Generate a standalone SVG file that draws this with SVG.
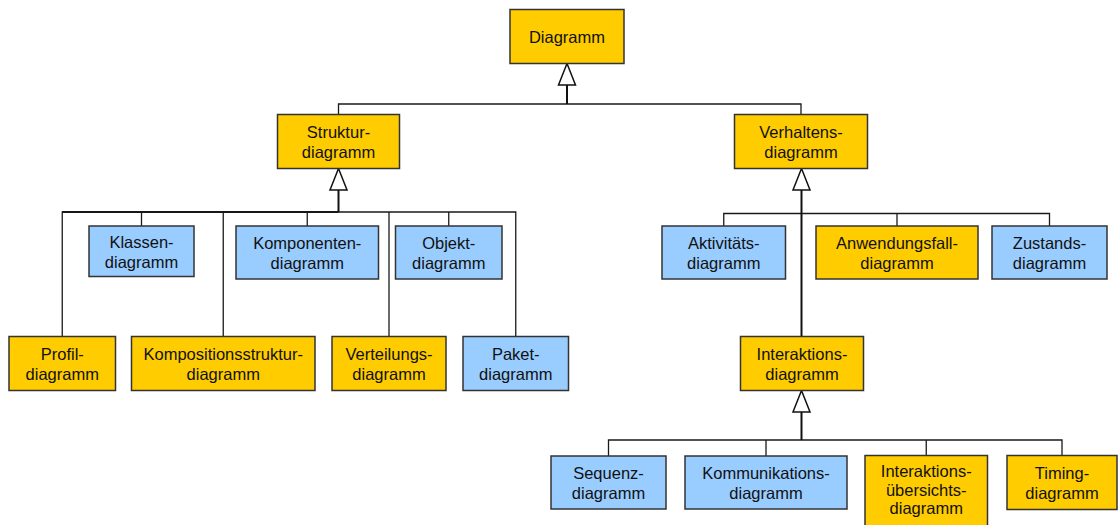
<svg xmlns="http://www.w3.org/2000/svg" width="1118" height="525" viewBox="0 0 1118 525">
  <style>
    .box rect { stroke: #333333; stroke-width: 1.5; }
    .yellow rect { fill: #FFCC00; }
    .blue rect { fill: #99CCFF; }
    .box text { font-family: "Liberation Sans", Arial, sans-serif; font-size: 16.5px; fill: #111111; text-anchor: middle; }
    .edge { fill: none; stroke: #1a1a1a; stroke-width: 1.3; }
    .trunk { fill: none; stroke: #111111; stroke-width: 2; }
    .head { fill: #ffffff; stroke: #111111; stroke-width: 1.5; stroke-linejoin: miter; }
  </style>
  <rect width="1118" height="525" fill="#ffffff"/>

  <!-- generalization connectors -->
  <g id="connectors">
    <!-- Diagramm -> Struktur / Verhalten -->
    <path class="edge" d="M338.5,114.5 V104 H801 V114.5"/>
    <path class="trunk" d="M567,85 V104"/>
    <path class="head" d="M567,63.5 L575.5,85 L558.5,85 Z"/>

    <!-- Strukturdiagramm children -->
    <path class="trunk" d="M62.25,212 H338.5"/>
    <path class="edge" d="M62.25,336.5 V212 H515.75 V336.5"/>
    <path class="edge" d="M141.5,212 V226"/>
    <path class="edge" d="M223.25,212 V336.5"/>
    <path class="edge" d="M307.25,212 V226"/>
    <path class="edge" d="M389,212 V336.5"/>
    <path class="edge" d="M448.75,212 V226"/>
    <path class="trunk" d="M338.5,190 V212"/>
    <path class="head" d="M338.5,168.5 L347,190 L330,190 Z"/>

    <!-- Verhaltensdiagramm children -->
    <path class="edge" d="M723.75,226 V213.5 H1049.5 V226"/>
    <path class="edge" d="M897,213.5 V226"/>
    <path class="trunk" d="M801.5,190 V336.5"/>
    <path class="head" d="M801.5,168.5 L810,190 L793,190 Z"/>

    <!-- Interaktionsdiagramm children -->
    <path class="edge" d="M608.5,456 V440 H1062 V455.5"/>
    <path class="edge" d="M766,440 V456"/>
    <path class="edge" d="M926.25,440 V455.5"/>
    <path class="trunk" d="M801.5,412 V440"/>
    <path class="head" d="M801.5,390.5 L810,412 L793,412 Z"/>
  </g>

  <!-- nodes -->
  <g id="diagramm" class="box yellow">
    <rect x="510" y="9.5" width="114" height="54"/>
    <text x="567" y="42.5">Diagramm</text>
  </g>
  <g id="strukturdiagramm" class="box yellow">
    <rect x="277.5" y="114.5" width="122" height="54"/>
    <text x="338.5" y="138">Struktur-</text>
    <text x="338.5" y="157.5">diagramm</text>
  </g>
  <g id="verhaltensdiagramm" class="box yellow">
    <rect x="734.5" y="114.5" width="133" height="54"/>
    <text x="801" y="138">Verhaltens-</text>
    <text x="801" y="157.5">diagramm</text>
  </g>

  <g id="klassendiagramm" class="box blue">
    <rect x="89" y="226" width="105" height="50.5"/>
    <text x="141.5" y="248">Klassen-</text>
    <text x="141.5" y="267.5">diagramm</text>
  </g>
  <g id="komponentendiagramm" class="box blue">
    <rect x="236" y="226" width="142.5" height="53"/>
    <text x="307.25" y="249">Komponenten-</text>
    <text x="307.25" y="268.5">diagramm</text>
  </g>
  <g id="objektdiagramm" class="box blue">
    <rect x="395.5" y="226" width="106.5" height="53"/>
    <text x="448.75" y="249">Objekt-</text>
    <text x="448.75" y="268.5">diagramm</text>
  </g>

  <g id="profildiagramm" class="box yellow">
    <rect x="9" y="336.5" width="106.5" height="54"/>
    <text x="62.25" y="360">Profil-</text>
    <text x="62.25" y="379.5">diagramm</text>
  </g>
  <g id="kompositionsstrukturdiagramm" class="box yellow">
    <rect x="131.5" y="336.5" width="183.5" height="54"/>
    <text x="223.25" y="360">Kompositionsstruktur-</text>
    <text x="223.25" y="379.5">diagramm</text>
  </g>
  <g id="verteilungsdiagramm" class="box yellow">
    <rect x="332" y="336.5" width="114" height="54"/>
    <text x="389" y="360">Verteilungs-</text>
    <text x="389" y="379.5">diagramm</text>
  </g>
  <g id="paketdiagramm" class="box blue">
    <rect x="463" y="336.5" width="105.5" height="54"/>
    <text x="515.75" y="360">Paket-</text>
    <text x="515.75" y="379.5">diagramm</text>
  </g>

  <g id="aktivitaetsdiagramm" class="box blue">
    <rect x="662" y="226" width="123.5" height="53"/>
    <text x="723.75" y="249">Aktivitäts-</text>
    <text x="723.75" y="268.5">diagramm</text>
  </g>
  <g id="anwendungsfalldiagramm" class="box yellow">
    <rect x="816" y="226" width="162" height="53"/>
    <text x="897" y="249">Anwendungsfall-</text>
    <text x="897" y="268.5">diagramm</text>
  </g>
  <g id="zustandsdiagramm" class="box blue">
    <rect x="992" y="226" width="115" height="53"/>
    <text x="1049.5" y="249">Zustands-</text>
    <text x="1049.5" y="268.5">diagramm</text>
  </g>

  <g id="interaktionsdiagramm" class="box yellow">
    <rect x="740.5" y="336.5" width="123" height="54"/>
    <text x="802" y="360">Interaktions-</text>
    <text x="802" y="379.5">diagramm</text>
  </g>

  <g id="sequenzdiagramm" class="box blue">
    <rect x="551" y="456" width="115" height="53"/>
    <text x="608.5" y="479">Sequenz-</text>
    <text x="608.5" y="498.5">diagramm</text>
  </g>
  <g id="kommunikationsdiagramm" class="box blue">
    <rect x="685" y="456" width="162" height="53"/>
    <text x="766" y="479">Kommunikations-</text>
    <text x="766" y="498.5">diagramm</text>
  </g>
  <g id="interaktionsuebersichtsdiagramm" class="box yellow">
    <rect x="865" y="455.5" width="122.5" height="75"/>
    <text x="926.25" y="477">Interaktions-</text>
    <text x="926.25" y="495.5">übersichts-</text>
    <text x="926.25" y="514">diagramm</text>
  </g>
  <g id="timingdiagramm" class="box yellow">
    <rect x="1007" y="455.5" width="110" height="54"/>
    <text x="1062" y="479">Timing-</text>
    <text x="1062" y="498.5">diagramm</text>
  </g>
</svg>
